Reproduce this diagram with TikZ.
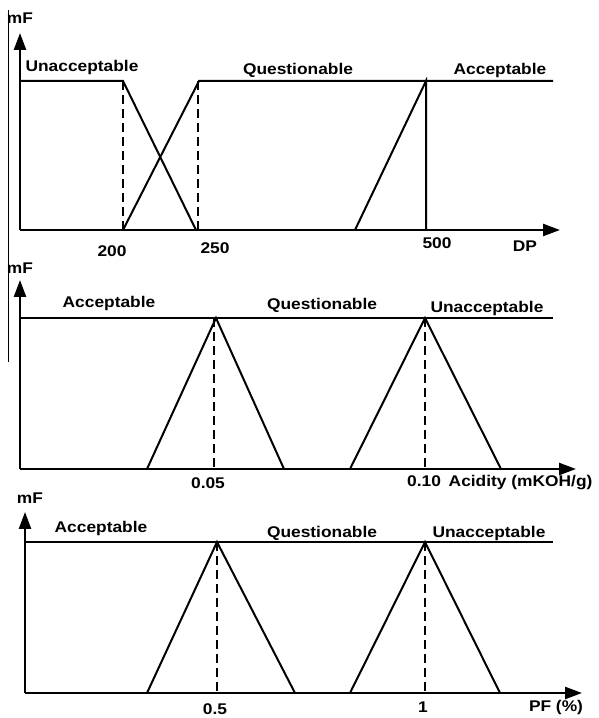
\documentclass[tikz,border=0pt]{standalone}
\usepackage{fontspec}
\setmainfont[FakeStretch=1.12]{Liberation Sans}
\usetikzlibrary{arrows.meta}

\begin{document}
\begin{tikzpicture}[x=1pt,y=1pt,>={Triangle[width=12pt,length=17pt]},
    every node/.style={font=\fontsize{15.5}{17}\selectfont\bfseries,inner sep=0pt},
    mf/.style={line width=2pt},
    axis/.style={line width=2.4pt,->},
    guide/.style={line width=2pt,dash pattern=on 9pt off 5pt}]
    \useasboundingbox (0,0) rectangle (599,718);
    \draw[line width=0.8pt](8,708)--(8,356);
    % DP
    \draw[axis](20,488)--(20,685);
    \draw[axis](20,488)--(560,488);
    \draw[mf](20,637)--(123,637)--(196,488);
    \draw[mf](123,488)--(199,637)--(553,637);
    \draw[mf](355,488)--(426,637)--(426,488);
    \foreach \x in {123,198}
    {
        \draw[guide](\x,637)--(\x,488);
    }
    \node (mf1) at (20,700) {mF};
    \node (unacc1) at (82,651) {Unacceptable};
    \node (quest1) at (298,648) {Questionable};
    \node (acc1) at (500,648) {Acceptable};
    \node (t200) at (112,467) {200};
    \node (t250) at (215,470) {250};
    \node (t500) at (437,475) {500};
    \node (dp) at (525,472) {DP};
    % Acidity
    \draw[axis](20,249)--(20,438);
    \draw[axis](20,249)--(576,249);
    \draw[mf](20,400)--(553,400);
    \draw[mf](147,249)--(216,400)--(284,249);
    \draw[mf](350,249)--(425,400)--(501,249);
    \foreach \x in {214,425}
    {
        \draw[guide](\x,400)--(\x,249);
    }
    \node (mf2) at (20,450) {mF};
    \node (acc2) at (109,415) {Acceptable};
    \node (quest2) at (322,413) {Questionable};
    \node (unacc2) at (487,410) {Unacceptable};
    \node (t005) at (208,235) {0.05};
    \node[anchor=west] (acid) at (407,235) {0.10\enspace Acidity (mKOH/g)};
    % PF
    \draw[axis](25,25)--(25,206);
    \draw[axis](25,25)--(582,25);
    \draw[mf](25,176)--(553,176);
    \draw[mf](147,25)--(217,176)--(295,25);
    \draw[mf](350,25)--(425,176)--(500,25);
    \foreach \x in {217,425}
    {
        \draw[guide](\x,176)--(\x,25);
    }
    \node (mf3) at (30,220) {mF};
    \node (acc3) at (101,190) {Acceptable};
    \node (quest3) at (322,185) {Questionable};
    \node (unacc3) at (489,185) {Unacceptable};
    \node (t05) at (215,9) {0.5};
    \node (t1) at (423,11) {1};
    \node (pf) at (556,10.5) {PF (\%)};
\end{tikzpicture}
\end{document}
